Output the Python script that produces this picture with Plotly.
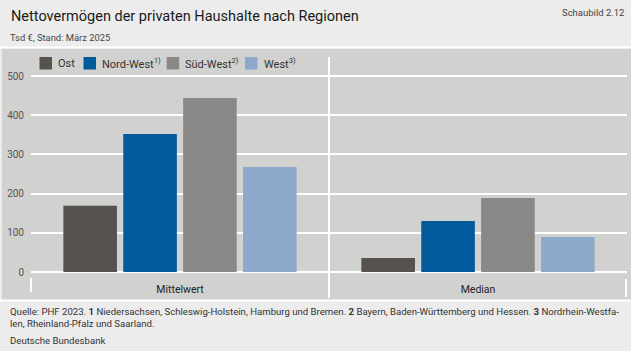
import plotly.graph_objects as go

categories = ["Mittelwert", "Median"]
series_names = ["Ost", "Nord-West<sup>1)</sup>", "Süd-West<sup>2)</sup>", "West<sup>3)</sup>"]
ost = [169, 36]
nord_west = [352, 130]
sued_west = [444, 189]
west = [268, 89]
y_ticks = [0, 100, 200, 300, 400, 500]

colors = ["#57524f", "#005a9c", "#898886", "#8ea8c9"]
values = [ost, nord_west, sued_west, west]

W, H = 631, 351
L, R, T, B = 31, 4, 57, 79
PW = W - L - R
PH = H - T - B
FONT = "Roboto"

def px(x):
    return (x - L) / PW

def py(y):
    return (H - B - y) / PH

fig = go.Figure()
for name, vals, col in zip(series_names, values, colors):
    fig.add_trace(go.Bar(x=categories, y=vals, name=name, marker=dict(color=col, line=dict(width=0)),
                         showlegend=False))

shapes = [
    dict(type="rect", xref="paper", yref="paper", x0=px(2), x1=px(631), y0=py(300), y1=py(48.5),
         fillcolor="#d1d1cf", line=dict(width=0), layer="below"),
    dict(type="line", xref="paper", yref="paper", x0=px(0), x1=px(631), y0=py(47.5), y1=py(47.5),
         line=dict(color="white", width=2), layer="below"),
    dict(type="line", xref="paper", yref="paper", x0=px(0), x1=px(631), y0=py(300.5), y1=py(300.5),
         line=dict(color="white", width=2), layer="below"),
    dict(type="line", xref="paper", yref="paper", x0=0.5, x1=0.5, y0=py(298), y1=py(57),
         line=dict(color="white", width=2), layer="above"),
    dict(type="line", xref="paper", yref="paper", x0=0, x1=0, y0=py(292), y1=py(278),
         line=dict(color="white", width=2), layer="above"),
    dict(type="line", xref="paper", yref="paper", x0=px(626), x1=px(626), y0=py(297), y1=py(279),
         line=dict(color="white", width=2), layer="above"),
]

annotations = [
    dict(text="Nettovermögen der privaten Haushalte nach Regionen", x=px(9), y=py(16), xref="paper", yref="paper",
         xanchor="left", yanchor="middle", showarrow=False, font=dict(family=FONT, size=14.5, color="#1a1a1a")),
    dict(text="Schaubild 2.12", x=px(626), y=py(13), xref="paper", yref="paper",
         xanchor="right", yanchor="middle", showarrow=False, font=dict(family=FONT, size=9.5, color="#444")),
    dict(text="Tsd €, Stand: März 2025", x=px(8), y=py(38), xref="paper", yref="paper",
         xanchor="left", yanchor="middle", showarrow=False, font=dict(family=FONT, size=9.4, color="#444")),
    dict(text="Quelle: PHF 2023. <b>1</b> Niedersachsen, Schleswig-Holstein, Hamburg und Bremen. <b>2</b> Bayern, Baden-Württemberg und Hessen. <b>3</b> Nordrhein-Westfa-<br>len, Rheinland-Pfalz und Saarland.",
         x=px(8), y=py(317), xref="paper", yref="paper", align="left",
         xanchor="left", yanchor="middle", showarrow=False, font=dict(family=FONT, size=9.6, color="#333")),
    dict(text="Deutsche Bundesbank", x=px(8), y=py(340), xref="paper", yref="paper",
         xanchor="left", yanchor="middle", showarrow=False, font=dict(family=FONT, size=9.6, color="#333")),
]

# manual legend (square + label), positions in pixels
legend_square_x = [39.5, 83.5, 166.7, 245]
legend_text_x = [56, 100, 183, 261.5]
for name, col, sx, tx in zip(series_names, colors, legend_square_x, legend_text_x):
    shapes.append(dict(type="rect", xref="paper", yref="paper", x0=px(sx), x1=px(sx + 12.5),
                       y0=py(69.5), y1=py(57), fillcolor=col, line=dict(width=0), layer="above"))
    annotations.append(dict(text=name, x=px(tx), y=py(63.5), xref="paper", yref="paper",
                            xanchor="left", yanchor="middle", showarrow=False,
                            font=dict(family=FONT, size=11, color="#333")))

fig.update_layout(
    width=W, height=H,
    margin=dict(l=L, r=R, t=T, b=B, pad=0),
    paper_bgcolor="#ececec",
    plot_bgcolor="#d1d1cf",
    barmode="group",
    bargap=0.196,
    bargroupgap=0.105,
    showlegend=False,
    shapes=shapes,
    annotations=annotations,
    font=dict(family=FONT),
)
fig.update_xaxes(range=[-0.5, 1.5], showgrid=False, showline=False, ticks="",
                 tickfont=dict(family=FONT, size=10.5, color="#222"), ticklabelstandoff=9)
fig.update_yaxes(range=[0, 548.5], tickvals=y_ticks, showgrid=True, gridcolor="white", gridwidth=2,
                 zeroline=True, zerolinecolor="white", zerolinewidth=2, showline=False, ticks="",
                 tickfont=dict(family=FONT, size=10, color="#555"), ticklabelstandoff=6)

fig.write_html("out.html")
